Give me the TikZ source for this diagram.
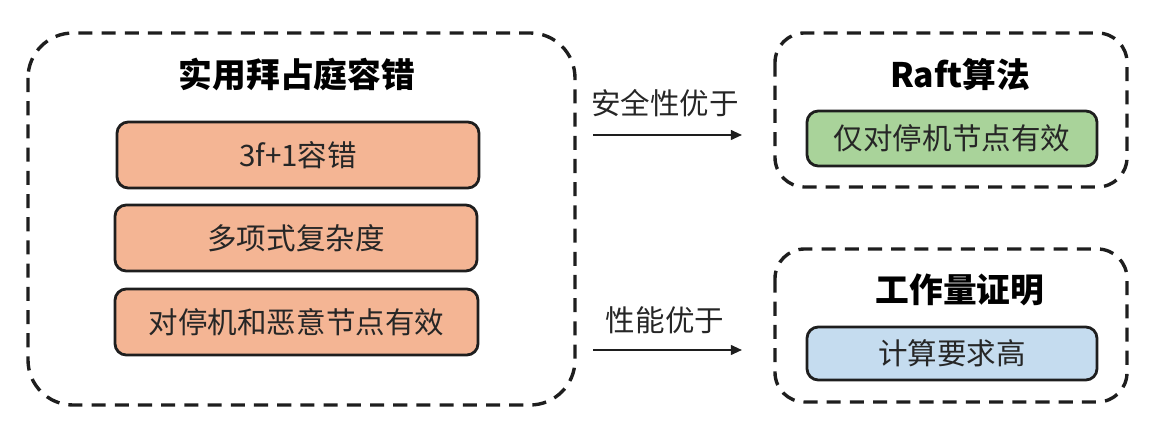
\documentclass[tikz,border=0pt]{standalone}
\usepackage{fontspec}
\setmainfont{Noto Sans CJK SC}
\usetikzlibrary{arrows.meta}
\definecolor{orangebloc}{HTML}{F4B594}
\definecolor{vertbloc}{HTML}{A9D39A}
\definecolor{bleubloc}{HTML}{C5DCEF}
\definecolor{trait}{HTML}{1E1E1E}
\definecolor{texte}{HTML}{262626}

\begin{document}
\begin{tikzpicture}[x=0.025cm, y=-0.025cm,
  cadre/.style={draw=trait, line width=2.4pt, dash pattern=on 10pt off 6.5pt},
  bloc/.style={draw=trait, line width=2pt, rounded corners=8pt},
  titre/.style={font=\bfseries\fontsize{24}{28}\selectfont, text=black},
  etiquette/.style={font=\fontsize{21}{25}\selectfont, text=texte},
  fleche/.style={draw=trait, line width=1.4pt, -{Triangle[length=8pt, width=7pt]}}]
\useasboundingbox (0,0) rectangle (1156,444);

%Cadres
\draw[cadre, rounded corners=32pt] (28,33) rectangle (575,405);
\draw[cadre, rounded corners=21pt] (775,33) rectangle (1127,187);
\draw[cadre, rounded corners=21pt] (775,249) rectangle (1127,402);

%Titres
\node[titre] (pbft) at (297,75) {实用拜占庭容错};
\node[titre] (raft) at (960,75) {Raft算法};
\node[titre] (pow) at (960,290) {工作量证明};

%Blocs
\draw[bloc, fill=orangebloc] (117,122) rectangle (479,188) node[pos=.5, etiquette] (tol) {3f+1容错};
\draw[bloc, fill=orangebloc] (115,205) rectangle (477,271) node[pos=.5, etiquette] (comp) {多项式复杂度};
\draw[bloc, fill=orangebloc] (115,289) rectangle (478,355) node[pos=.5, etiquette] (eff) {对停机和恶意节点有效};
\draw[bloc, fill=vertbloc] (807,111) rectangle (1097,166) node[pos=.5, etiquette] (arret) {仅对停机节点有效};
\draw[bloc, fill=bleubloc] (807,327) rectangle (1097,380) node[pos=.5, etiquette] (calc) {计算要求高};

%Fleches
\coordinate (d1) at (593,135);
\coordinate (f1) at (742,135);
\coordinate (d2) at (593,350);
\coordinate (f2) at (742,350);
\draw[fleche] (d1) -- (f1);
\draw[fleche] (d2) -- (f2);
\node[etiquette] (surete) at (665,103) {安全性优于};
\node[etiquette] (perf) at (665,320) {性能优于};

\end{tikzpicture}
\end{document}
